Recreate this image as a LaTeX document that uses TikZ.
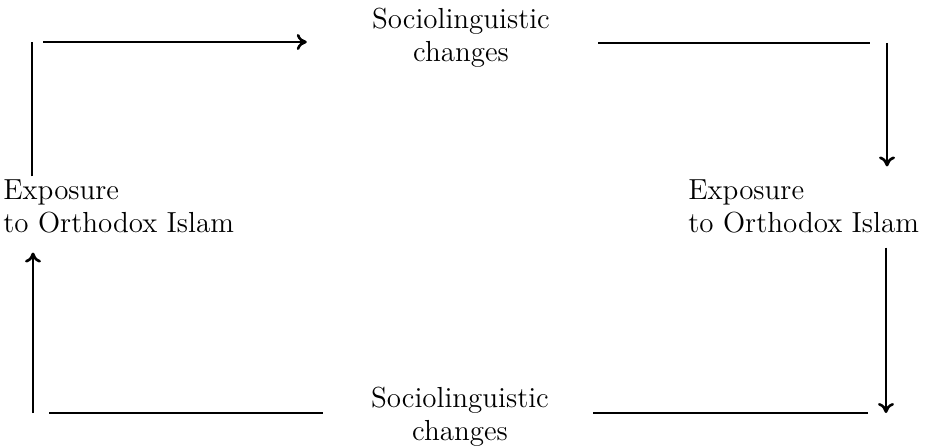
\documentclass[tikz,border=0pt]{standalone}
\usetikzlibrary{arrows.meta,calc}

\tikzset{
  line/.style = {line width = 1.3pt},
  flow/.style = {line, -{Computer Modern Rightarrow[length = 5pt, width = 8pt]}},
  lbl/.style  = {inner sep = 0pt, font = \fontsize{14.5}{16.5}\selectfont}
}

\begin{document}
\begin{tikzpicture}[x = 0.5pt, y = -0.5pt]
  \useasboundingbox (0, 0) rectangle (931, 448);

  \node[lbl, align = center] (chTop) at (461, 37.5) {Sociolinguistic\\changes};
  \node[lbl, align = center] (chBot) at (460, 416.5) {Sociolinguistic\\changes};
  \node[lbl, align = left, anchor = west] (exL) at (3, 206.5) {Exposure\\to Orthodox Islam};
  \node[lbl, align = left, anchor = west] (exR) at (688, 206.5) {Exposure\\to Orthodox Islam};

  \coordinate (tl) at (32, 42);
  \coordinate (tr) at (887, 43);
  \coordinate (br) at (886, 413);
  \coordinate (bl) at (33, 413);

  % top
  \draw[line] ($(tl |- exL.north) + (0, -3)$) -- (tl);
  \draw[flow] ($(tl) + (11, 0)$) -- ($(tl -| chTop.west) + (-65, 0)$);
  \draw[line] ($(chTop.east |- tr) + (48, 0)$) -- ($(tr) + (-17, 0)$);
  \draw[flow] (tr) -- ($(tr |- exR.north) + (0, -13)$);

  % bottom
  \draw[flow] ($(exR.south -| br) + (0, 14)$) -- (br);
  \draw[line] ($(br) + (-18, 0)$) -- ($(chBot.east |- br) + (44, 0)$);
  \draw[line] ($(chBot.west |- bl) + (-48, 0)$) -- ($(bl) + (16, 0)$);
  \draw[flow] (bl) -- ($(bl |- exL.south) + (0, 19)$);
\end{tikzpicture}
\end{document}
